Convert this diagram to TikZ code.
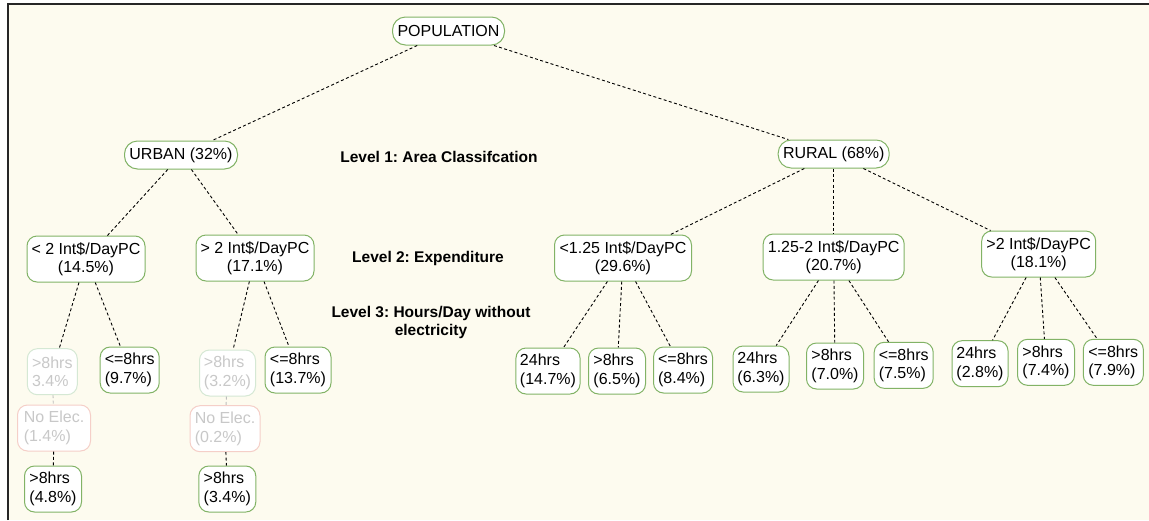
\documentclass[tikz,border=0pt]{standalone}
\usepackage{fontspec}
\setmainfont{Liberation Sans}
\frenchspacing
\definecolor{paper}{HTML}{FDFBEF}
\definecolor{leafgreen}{HTML}{82B366}
\definecolor{palegreen}{HTML}{D5E8D4}
\definecolor{palered}{HTML}{F5CFC8}
\definecolor{paletext}{HTML}{C8C8C8}
\definecolor{paleline}{HTML}{BDBDBD}
\tikzset{
  box/.style={draw=leafgreen, fill=white, line width=1pt, rounded corners=10pt,
    font=\fontsize{16}{18.5}\selectfont, inner xsep=4pt, inner ysep=3pt,
    minimum height=46pt, align=center},
  pill/.style={box, rounded corners=13pt, minimum height=28pt},
  leaf/.style={box, align=left},
  fadedleaf/.style={leaf, draw=palegreen, text=paletext},
  noelec/.style={leaf, draw=palered, text=paletext},
  link/.style={draw=black, line width=0.9pt, dash pattern=on 3pt off 2.4pt},
  fadedlink/.style={link, draw=paleline},
  levellabel/.style={font=\bfseries\fontsize{15.5}{18}\selectfont, align=center}
}
\begin{document}
\begin{tikzpicture}[x=1pt, y=-1pt]
  \useasboundingbox (0,0) rectangle (1149,520);
  % sheet and its frame
  \fill[white] (0,0) rectangle (1149,520);
  \fill[paper] (8,4) rectangle (1149,520);
  \draw[line width=2pt, black!85] (8,520) -- (8,4) -- (1149,4);

  % level labels
  \node[levellabel] (lab1) at (439,157) {Level 1: Area Classifcation};
  \node[levellabel] (lab2) at (428,258) {Level 2: Expenditure};
  \node[levellabel] (lab3) at (431,322) {Level 3: Hours/Day without\\electricity};

  % root and level 1
  \node[pill, minimum width=112pt] (pop) at (448.5,31) {POPULATION};
  \node[pill, minimum width=113pt] (urban) at (181,155) {URBAN (32\%)};
  \node[pill, minimum width=111pt] (rural) at (833.7,154) {RURAL (68\%)};

  % level 2
  \node[box, minimum width=118pt] (u1) at (86,259) {< 2 Int\$/DayPC\\(14.5\%)};
  \node[box, minimum width=118pt] (u2) at (255,258) {> 2 Int\$/DayPC\\(17.1\%)};
  \node[box, minimum width=137pt] (r1) at (623,258) {<1.25 Int\$/DayPC\\(29.6\%)};
  \node[box, minimum width=141pt] (r2) at (833.7,257) {1.25-2 Int\$/DayPC\\(20.7\%)};
  \node[box, minimum width=114pt] (r3) at (1038.7,254) {>2 Int\$/DayPC\\(18.1\%)};

  % level 3, urban
  \node[fadedleaf, minimum width=50pt] (u1a) at (52.3,371.7) {>8hrs\\3.4\%};
  \node[leaf, minimum width=59pt] (u1b) at (129.7,370) {<=8hrs\\(9.7\%)};
  \node[noelec, minimum width=73pt] (u1n) at (54,428) {No Elec.\\(1.4\%)};
  \node[leaf, minimum width=57pt] (u1c) at (53,489) {>8hrs\\(4.8\%)};
  \node[fadedleaf, minimum width=56pt] (u2a) at (227.5,373) {>8hrs\\(3.2\%)};
  \node[leaf, minimum width=66pt] (u2b) at (298,370) {<=8hrs\\(13.7\%)};
  \node[noelec, minimum width=70pt] (u2n) at (225,428.7) {No Elec.\\(0.2\%)};
  \node[leaf, minimum width=57pt] (u2c) at (227.3,489) {>8hrs\\(3.4\%)};

  % level 3, rural
  \node[leaf, minimum width=63pt] (r1a) at (548,371) {24hrs\\(14.7\%)};
  \node[leaf, minimum width=57pt] (r1b) at (617,371) {>8hrs\\(6.5\%)};
  \node[leaf, minimum width=59pt] (r1c) at (683,370) {<=8hrs\\(8.4\%)};
  \node[leaf, minimum width=56pt] (r2a) at (761,369) {24hrs\\(6.3\%)};
  \node[leaf, minimum width=57pt] (r2b) at (835,366) {>8hrs\\(7.0\%)};
  \node[leaf, minimum width=59pt] (r2c) at (903.7,365.3) {<=8hrs\\(7.5\%)};
  \node[leaf, minimum width=56pt] (r3a) at (980,363.7) {24hrs\\(2.8\%)};
  \node[leaf, minimum width=57pt] (r3b) at (1046,362.3) {>8hrs\\(7.4\%)};
  \node[leaf, minimum width=60pt] (r3c) at (1113.3,362.3) {<=8hrs\\(7.9\%)};

  % connectors
  \draw[link] (pop) -- (urban);
  \draw[link] (pop) -- (rural);
  \draw[link] (urban) -- (u1);
  \draw[link] (urban) -- (u2);
  \draw[link] (u1) -- (u1a);
  \draw[link] (u1) -- (u1b);
  \draw[fadedlink] (u1a) -- (u1n);
  \draw[link] (u1n) -- (u1c);
  \draw[link] (u2) -- (u2a);
  \draw[link] (u2) -- (u2b);
  \draw[fadedlink] (u2a) -- (u2n);
  \draw[link] (u2n) -- (u2c);
  \draw[link] (rural) -- (r1);
  \draw[link] (rural) -- (r2);
  \draw[link] (rural) -- (r3);
  \draw[link] (r1) -- (r1a);
  \draw[link] (r1) -- (r1b);
  \draw[link] (r1) -- (r1c);
  \draw[link] (r2) -- (r2a);
  \draw[link] (r2) -- (r2b);
  \draw[link] (r2) -- (r2c);
  \draw[link] (r3) -- (r3a);
  \draw[link] (r3) -- (r3b);
  \draw[link] (r3) -- (r3c);
\end{tikzpicture}
\end{document}
